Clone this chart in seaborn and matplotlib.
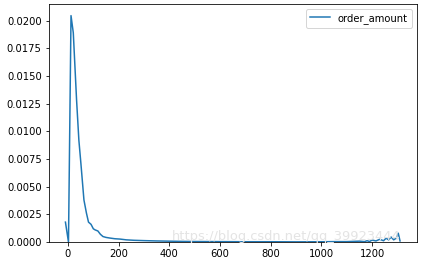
import matplotlib
matplotlib.use("Agg")
import matplotlib.pyplot as plt
import seaborn as sns
import numpy as np

x_vals = [-10, 2, 12, 21, 34, 43, 51, 63, 73, 81, 91, 100, 107, 118, 128, 138, 150, 166, 185, 205,
          230, 260, 300, 350, 400, 450, 500, 600, 700, 800, 900, 1000, 1050, 1100, 1150, 1170, 1180,
          1190, 1200, 1215, 1230, 1245, 1255, 1265, 1275, 1285, 1295, 1303, 1310]
y_vals = [0.0018, 0.0, 0.02045, 0.0189, 0.0128, 0.0092, 0.0071, 0.0038, 0.0026, 0.0018, 0.0016,
          0.0012, 0.0011, 0.0010, 0.0007, 0.0005, 0.00042, 0.00036, 0.0003, 0.00027,
          0.0002, 0.00016, 0.00013, 0.0001, 0.00008, 0.00006, 0.00005, 0.00004, 0.00003,
          0.00003, 0.00002, 0.00003, 0.00004, 0.00004, 0.00008, 0.00004, 0.00012,
          0.00005, 0.00018, 0.0001, 0.00025, 0.00012, 0.00035, 0.0002, 0.00045, 0.0002, 0.00035, 0.0008, 0.0001]
series_label = "order_amount"
watermark = "https://blog.csdn.net/qq_39923444"

fig = plt.figure(figsize=(425 / 72, 266 / 72), dpi=72)
ax = fig.add_axes([0.1146, 0.090, 0.866, 0.895])
sns.lineplot(x=x_vals, y=y_vals, ax=ax, label=series_label, color="#1f77b4", linewidth=1.5)
ax.set_xlim(-76, 1376)
ax.set_ylim(0, 0.0215)
ax.set_xticks([0, 200, 400, 600, 800, 1000, 1200])
ax.set_yticks(np.arange(0, 0.0201, 0.0025))
ax.yaxis.set_major_formatter(matplotlib.ticker.FormatStrFormatter("%.4f"))
ax.tick_params(labelsize=10)
ax.legend(loc="upper right", fontsize=10)
fig.text(0.405, 0.098, watermark, color="#e4e4e4", fontsize=13, zorder=0)
fig.savefig("out.png", dpi=72)
